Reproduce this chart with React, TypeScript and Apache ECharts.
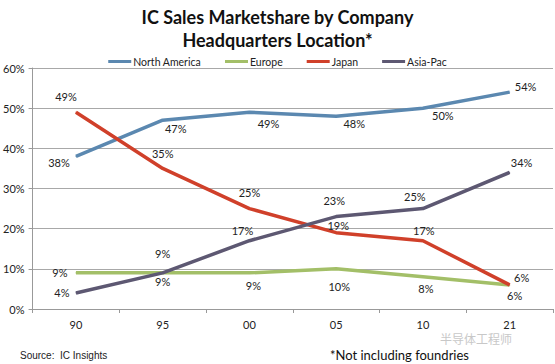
import React, { useEffect, useRef } from "react";
import * as echarts from "echarts";

const categories = ["90", "95", "00", "05", "10", "21"];
const northAmerica = [38, 47, 49, 48, 50, 54];
const europe = [9, 9, 9, 10, 8, 6];
const japan = [49, 35, 25, 19, 17, 6];
const asiaPac = [4, 9, 17, 23, 25, 34];

// label offsets [dx, dy] per point (style only)
const naOff = [[-17, 6], [13, 8], [19, 11], [18, 7], [20, 7], [16, -6]];
const euOff = [[-16, 0], [0, 9], [4, 13], [3, 18], [3, 12], [5, 11]];
const jpOff = [[-10, -16], [0, -15], [0, -16], [2, -7], [1, -10], [12, -7]];
const apOff = [[-14, 0], [0, -19], [-7, -10], [-2, -16], [-8, -12], [12, -10]];

const FONT = "Lato";

function mkSeries(name: string, vals: number[], offs: number[][], color: string, z: number) {
  return {
    name,
    type: "line",
    z,
    symbol: "circle",
    symbolSize: 1,
    showSymbol: true,
    itemStyle: { color },
    lineStyle: { color, width: 3.5 },
    data: vals.map((v, i) => ({
      value: v,
      label: { offset: offs[i] },
    })),
    label: {
      show: true,
      position: "inside",
      formatter: "{c}%",
      fontFamily: FONT,
      fontSize: 11,
      color: "#222",
    },
  };
}

export default function App() {
  const ref = useRef<HTMLDivElement>(null);
  useEffect(() => {
    document.body.style.margin = "0";
    const chart = echarts.init(ref.current!, null, { renderer: "svg" });
    chart.setOption({
      animation: false,
      backgroundColor: "#fff",
      textStyle: { fontFamily: FONT },
      title: {
        text: "IC Sales Marketshare by Company\nHeadquarters Location*",
        left: "center",
        top: 0,
        textStyle: {
          fontFamily: FONT,
          fontWeight: "bold",
          fontSize: 18,
          lineHeight: 23,
          color: "#111",
        },
      },
      legend: {
        left: "center",
        top: 51,
        icon: "rect",
        itemWidth: 23,
        itemHeight: 3,
        itemGap: 24,
        textStyle: { fontFamily: FONT, fontSize: 10.5, color: "#222", padding: [0, 0, 0, -3] },
        data: ["North America", "Europe", "Japan", "Asia-Pac"],
      },
      grid: { left: 30, right: 2, top: 68, bottom: 55 },
      xAxis: {
        type: "category",
        data: categories,
        boundaryGap: true,
        axisLine: { lineStyle: { color: "#999" } },
        axisTick: { show: true, length: 4, lineStyle: { color: "#999" } },
        axisLabel: { fontFamily: FONT, fontSize: 11, color: "#222", margin: 10 },
      },
      yAxis: {
        type: "value",
        min: 0,
        max: 60,
        interval: 10,
        axisLine: { show: true, lineStyle: { color: "#999" } },
        axisTick: { show: true, length: 4, lineStyle: { color: "#999" } },
        axisLabel: { fontFamily: FONT, fontSize: 11, color: "#222", formatter: "{value}%", margin: 8 },
        splitLine: { lineStyle: { color: "#a8a8a8" } },
      },
      series: [
        mkSeries("North America", northAmerica, naOff, "#5b88b0", 3),
        mkSeries("Europe", europe, euOff, "#a3bf68", 2),
        mkSeries("Japan", japan, jpOff, "#d0402a", 4),
        mkSeries("Asia-Pac", asiaPac, apOff, "#5d5872", 5),
      ],
      graphic: [
        {
          type: "text",
          left: 20,
          top: 350,
          style: { text: "Source:  IC Insights", fontFamily: "Liberation Sans", fontSize: 10, fill: "#222" },
        },
        {
          type: "text",
          left: 330,
          top: 348,
          style: { text: "*Not including foundries", fontFamily: FONT, fontSize: 13, lineHeight: 14, fill: "#111" },
        },
        {
          type: "text",
          left: 440,
          top: 332,
          style: { text: "半导体工程师", fontFamily: "Noto Sans CJK SC", fontSize: 12, lineHeight: 12, fill: "#c8c8c8" },
        },
      ],
    });
    return () => chart.dispose();
  }, []);
  return <div ref={ref} style={{ width: 555, height: 364 }} />;
}
